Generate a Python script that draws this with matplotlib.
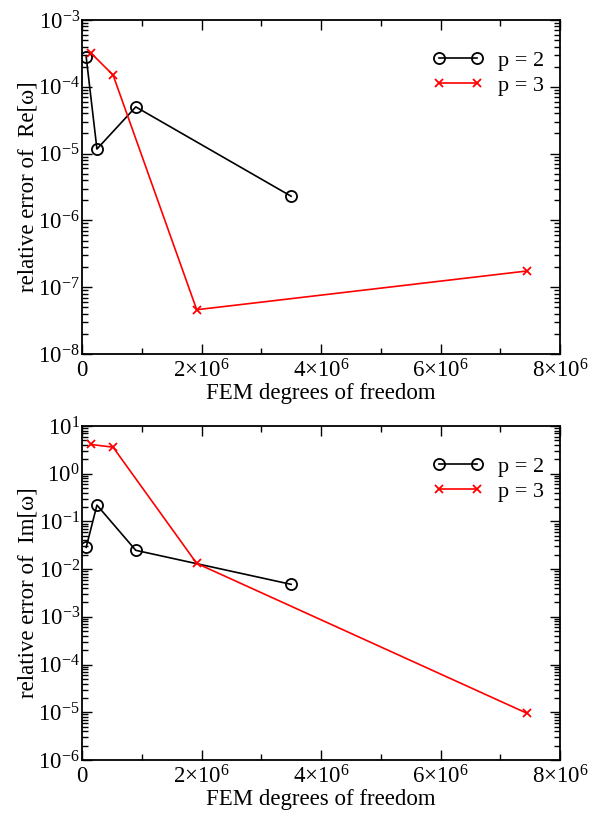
"""
Convergence of relative eigenvalue error vs FEM degrees of freedom.
"""

import matplotlib
matplotlib.use('Agg')
import matplotlib.pyplot as plt
import matplotlib.ticker as ticker
import numpy as np

plt.rcParams['font.family'] = ['Liberation Serif', 'DejaVu Serif']
plt.rcParams['mathtext.fontset'] = 'custom'
plt.rcParams['mathtext.rm'] = 'Liberation Serif'
plt.rcParams['mathtext.it'] = 'Liberation Serif:italic'

# data
dof_p2 = [0.07e6, 0.25e6, 0.9e6, 3.5e6]
dof_p3 = [0.15e6, 0.52e6, 1.92e6, 7.45e6]

re_err_p2 = [2.8e-4, 1.17e-5, 5.0e-5, 2.3e-6]
re_err_p3 = [3.2e-4, 1.5e-4, 4.6e-8, 1.75e-7]

im_err_p2 = [0.0286, 0.22, 0.0248, 0.0048]
im_err_p3 = [4.1, 3.6, 0.0132, 9.5e-6]

xticks = [0, 2e6, 4e6, 6e6, 8e6]


def x_fmt(v, pos):
    if v == 0:
        return '0'
    return r'$%d{\times}10^{6}$' % round(v / 1e6)


def style_axes(ax, ylim, ylabel):
    ax.set_xlim(0, 8e6)
    ax.set_yscale('log')
    ax.set_ylim(*ylim)
    ax.set_xticks(xticks)
    ax.xaxis.set_minor_locator(ticker.MultipleLocator(1e6))
    ax.xaxis.set_major_formatter(ticker.FuncFormatter(x_fmt))
    ax.yaxis.set_major_locator(ticker.LogLocator(base=10, numticks=20))
    ax.yaxis.set_minor_locator(ticker.LogLocator(base=10, subs=np.arange(2, 10), numticks=20))
    ax.yaxis.set_minor_formatter(ticker.NullFormatter())
    ax.tick_params(which='both', direction='in', top=True, right=True,
                   labelsize=16.5, width=1.0)
    ax.tick_params(which='major', length=7)
    ax.tick_params(which='minor', length=4)
    ax.tick_params(axis='x', pad=4)
    ax.tick_params(axis='y', pad=1.5)
    for s in ax.spines.values():
        s.set_linewidth(1.3)
    ax.set_xlabel('FEM degrees of freedom', fontsize=16.5, labelpad=0)
    ax.set_ylabel(ylabel, fontsize=16.5, labelpad=0)


fig = plt.figure(figsize=(5.99, 8.17), dpi=100)
ax1 = fig.add_axes([82 / 599, 1 - 354 / 817, 478 / 599, 334 / 817])
ax2 = fig.add_axes([82 / 599, 1 - 760 / 817, 478 / 599, 334 / 817])

panels = [
    (ax1, re_err_p2, re_err_p3, (1e-8, 1e-3), r'relative error of  Re[ω]'),
    (ax2, im_err_p2, im_err_p3, (1e-6, 1e1), r'relative error of  Im[ω]'),
]

for ax, e2, e3, ylim, ylabel in panels:
    ax.plot(dof_p2, e2, color='black', lw=1.2, marker='o', ms=8,
            mfc='none', mew=1.3, label='p = 2')
    ax.plot(dof_p3, e3, color='red', lw=1.2, marker='x', ms=6,
            mew=1.3, label='p = 3')
    style_axes(ax, ylim, ylabel)
    ax.legend(loc='upper right', frameon=False, numpoints=2, fontsize=16,
              handlelength=2.3, handletextpad=0.65, labelspacing=0.2,
              bbox_to_anchor=(1.008, 0.97))

fig.savefig('out.png', dpi=100)
